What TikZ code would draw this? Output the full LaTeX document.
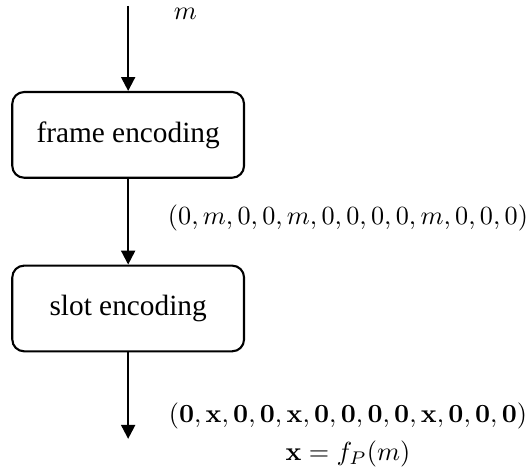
\documentclass[tikz,border=0pt]{standalone}
\usepackage[no-math]{fontspec}
\setmainfont{Liberation Serif}
\usetikzlibrary{positioning,arrows.meta}

\begin{document}
\begin{tikzpicture}
[blk/.style={draw=black,thick,rounded corners=4.5pt,minimum width=31.1mm,minimum height=11.5mm,inner sep=0mm,font=\fontsize{11.2}{13.4}\selectfont},
 lbl/.style={inner sep=0mm},
 flow/.style={-{Triangle[length=5.3pt,width=5.3pt]}},
 thick]
\useasboundingbox (-17.2mm,-44.6mm) rectangle (54.2mm,18.1mm);
\node[blk] (frame)                                   {frame encoding};
\node[blk] (slot) [on grid,below=23.3mm of frame]    {slot encoding};
\coordinate[on grid,above=17.3mm of frame] (in);
\coordinate[on grid,below=17.5mm of slot] (out);
\node[lbl] (msg)  [on grid,below right=0.1mm and 6.0mm of in]    {$m$};
\node[lbl] (vec)  [on grid,below right=11.1mm and 29.5mm of frame]
  {$(0,m,0,0,m,0,0,0,0,m,0,0,0)$};
\node[lbl,align=center] (code) [on grid,below right=17mm and 29.5mm of slot]
  {$(\mathbf{0},\mathbf{x},\mathbf{0},\mathbf{0},\mathbf{x},\mathbf{0},\mathbf{0},\mathbf{0},\mathbf{0},\mathbf{x},\mathbf{0},\mathbf{0},\mathbf{0})$\\[2.5pt]
   $\mathbf{x}=f_P(m)$};
\path[flow] (in)    edge (frame);
\path[flow] (frame) edge (slot);
\path[flow] (slot)  edge (out);
\end{tikzpicture}
\end{document}
